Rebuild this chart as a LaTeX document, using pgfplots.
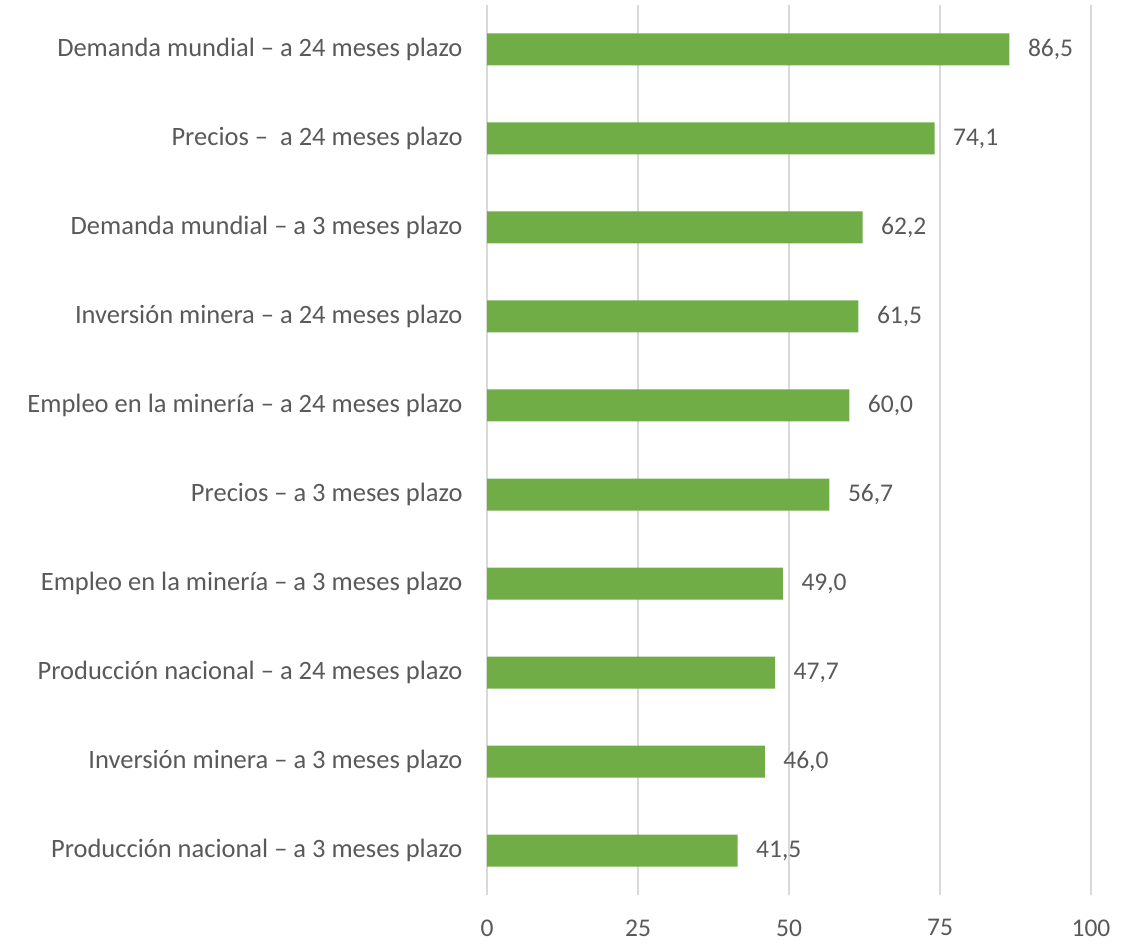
\documentclass[border=0pt]{standalone}
\usepackage{pgfplots}
\pgfplotsset{compat=1.18}
\usepackage{fontspec}
\setmainfont{Carlito}
\definecolor{barg}{HTML}{70AD47}
\definecolor{txt}{HTML}{595959}
\definecolor{grd}{HTML}{D9D9D9}
\begin{document}
\begin{tikzpicture}[x=1pt,y=1pt]
\path[use as bounding box] (0,0) rectangle (1139,943);
\begin{axis}[
  at={(487pt,48pt)}, anchor=south west,
  scale only axis, width=604pt, height=890pt,
  xbar, bar width=32pt,
  xmin=0, xmax=100, ymin=-0.5, ymax=9.5,
  xtick={0,25,50,75,100},
  ytick={0,...,9},
  yticklabels={
    Producción nacional – a 3 meses plazo,
    Inversión minera – a 3 meses plazo,
    Producción nacional – a 24 meses plazo,
    Empleo en la minería – a 3 meses plazo,
    Precios – a 3 meses plazo,
    Empleo en la minería – a 24 meses plazo,
    Inversión minera – a 24 meses plazo,
    Demanda mundial – a 3 meses plazo,
    Precios –\ \ a 24 meses plazo,
    Demanda mundial – a 24 meses plazo},
  xmajorgrids, major grid style={grd, line width=1.3pt},
  axis line style={draw=none},
  major tick length=0pt,
  tick label style={font=\fontsize{25.5}{30}\selectfont, text=txt},
  yticklabel style={xshift=-21pt, font=\fontsize{26.5}{30}\selectfont},
  xticklabel style={yshift=-21pt},
  /pgf/number format/assume math mode=true,
  nodes near coords,
  nodes near coords style={font=\fontsize{25.5}{30}\selectfont, text=txt, xshift=15pt,
    /pgf/number format/.cd, fixed, fixed zerofill, precision=1, use comma, assume math mode=true},
  clip=false,
]
\addplot[fill=barg, draw=none] coordinates {
(41.5,0) (46.0,1) (47.7,2) (49.0,3) (56.7,4) (60.0,5) (61.5,6) (62.2,7) (74.1,8) (86.5,9)};
\end{axis}
\end{tikzpicture}
\end{document}
